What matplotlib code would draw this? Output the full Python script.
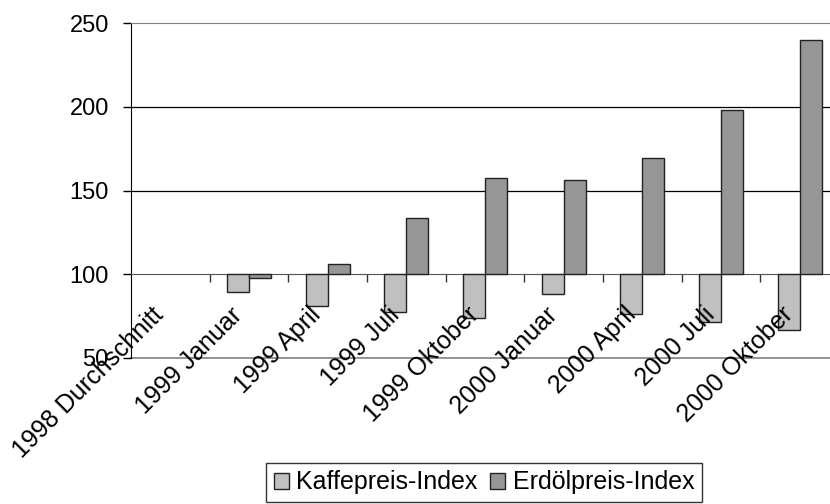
import matplotlib.pyplot as plt
import numpy as np

plt.rcParams["font.family"] = ["Liberation Sans", "DejaVu Sans"]

categories = [
    "1998 Durchschnitt", "1999 Januar", "1999 April", "1999 Juli",
    "1999 Oktober", "2000 Januar", "2000 April", "2000 Juli", "2000 Oktober",
]
kaffee = [100, 89.3, 81.1, 77.2, 73.8, 88.1, 76.2, 71.4, 66.7]
erdoel = [100, 97.6, 106.0, 133.5, 157.3, 156.1, 169.2, 198.0, 239.7]
series_names = ["Kaffepreis-Index", "Erdölpreis-Index"]
baseline = 100

fig = plt.figure(figsize=(8.3, 5.04), dpi=100)
ax = fig.add_axes([131 / 830, 146 / 504, 708 / 830, 335 / 504])

x = np.arange(len(categories))
w = 0.28
k = np.array(kaffee) - baseline
e = np.array(erdoel) - baseline
# zero-height bars would leave a stray edge line on the axis
k_edges = ["#222222" if v != 0 else "none" for v in k]
e_edges = ["#222222" if v != 0 else "none" for v in e]
ax.bar(x - w / 2, k, width=w, bottom=baseline, color="#c0c0c0",
       edgecolor=k_edges, linewidth=1.0, label=series_names[0], zorder=3)
ax.bar(x + w / 2, e, width=w, bottom=baseline, color="#969696",
       edgecolor=e_edges, linewidth=1.0, label=series_names[1], zorder=3)

ax.set_xlim(-0.5, len(categories) - 0.5)
ax.set_ylim(50, 250)
ax.set_yticks([50, 100, 150, 200, 250])
ax.tick_params(axis="y", direction="out", length=6, width=1, pad=10,
               labelsize=17)

# category axis crosses at 100, ticks between categories
ax.spines["bottom"].set_position(("data", baseline))
ax.spines["bottom"].set_color("#555555")
ax.set_xticks(np.arange(0.5, len(categories) - 1, 1.0))
ax.set_xticklabels([])
ax.tick_params(axis="x", direction="out", length=6, width=1, color="#333333")

ax.spines["right"].set_visible(False)
ax.spines["top"].set_color("#808080")
ax.spines["left"].set_color("black")

for yv in [150, 200]:
    ax.axhline(yv, color="black", linewidth=0.9, zorder=1)
ax.axhline(50, color="#808080", linewidth=1.2, zorder=1, clip_on=False)

for i, lab in enumerate(categories):
    ax.text(i - 0.24, 83, lab, rotation=45, ha="right", va="top",
            rotation_mode="anchor", fontsize=18, zorder=4)

leg = fig.legend(loc="upper center", bbox_to_anchor=(484 / 830, 1 - 463 / 504),
                 ncol=2, fontsize=18, frameon=True, fancybox=False,
                 edgecolor="black", handlelength=0.6, handleheight=0.6,
                 handletextpad=0.3, columnspacing=0.5, borderpad=0.3,
                 borderaxespad=0)
leg.get_frame().set_linewidth(1.0)
for h in leg.legend_handles:
    h.set_edgecolor("#222222")
    h.set_linewidth(1.0)

fig.savefig("out.png", dpi=100)
